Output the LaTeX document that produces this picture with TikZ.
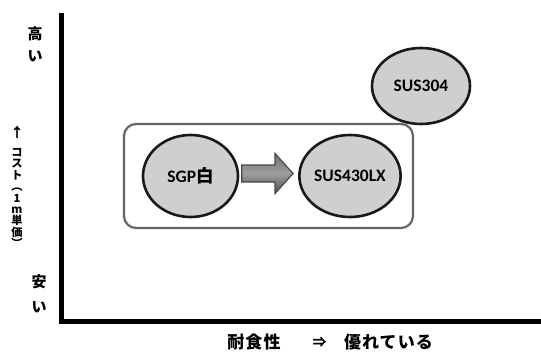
\documentclass[tikz,border=0pt]{standalone}
\usepackage{fontspec}
\setmainfont{Carlito}
\newfontfamily\jp{Noto Sans CJK JP}
\newfontfamily\jpwide[LetterSpace=6]{Noto Sans CJK JP}
\usetikzlibrary{shapes.geometric,calc}
\begin{document}
\begin{tikzpicture}[x=1pt,y=-1pt,
  axis/.style={line width=5.5pt,draw=black},
  bubble/.style={ellipse,draw=black!90,line width=2.6pt,fill=black!19,inner sep=0pt,
    font=\fontsize{17.5}{19}\selectfont\bfseries},
  group/.style={draw=black!60,line width=2.2pt,rounded corners=12pt},
  arrowbox/.style={draw=black!72,line width=1.2pt,top color=black!55,bottom color=black!70,middle color=black!38,line join=miter},
  lbl/.style={font=\jp\bfseries\fontsize{15}{16}\selectfont,inner sep=0pt}]
\useasboundingbox (0,0) rectangle (541,353);
\coordinate (top) at (61.5,13);
\coordinate (org) at (61.5,321.5);
\coordinate (right) at (541,321.5);
\draw[axis,line join=miter] (top) -- (org) -- (right);
\draw[group] (124,124) rectangle (413,228);
\node[bubble,minimum width=95pt,minimum height=82pt] (sgp) at (190.5,176) {SGP{\jp 白}};
\node[bubble,minimum width=95pt,minimum height=82pt] (lx) at (350,176) {SUS430LX};
\node[bubble,minimum width=98pt,minimum height=76pt] (s304) at (421,86) {SUS304};
\coordinate (a) at ($(sgp.east)+(2.5,-2.5)$);
\coordinate (b) at ($(lx.west)+(-5,-2.5)$);
\draw[arrowbox] ($(a)+(0,-8.5)$) -- ($(b)+(-18,-8.5)$) -- ($(b)+(-18,-20)$) -- (b)
  -- ($(b)+(-18,20)$) -- ($(b)+(-18,8.5)$) -- ($(a)+(0,8.5)$) -- cycle;
\node[lbl] (hi1) at (35,34) {高};
\node[lbl] (hi2) at (35,56) {い};
\node[lbl,font=\jp\bfseries\fontsize{13.5}{14}\selectfont] (up) at (17,132) {↑};
\node[lbl,align=center,font=\jp\bfseries\fontsize{11.2}{11.4}\selectfont] (cost) at (17,198)
  {コ\\ス\\ト\\︵\\1\\m\\単\\価\\︶};
\node[lbl] (lo1) at (39,282) {安};
\node[lbl] (lo2) at (39,307) {い};
\node[lbl,font=\jpwide\bfseries\fontsize{17}{18}\selectfont] (x1) at (254,342) {耐食性};
\node[lbl,font=\jp\bfseries\fontsize{14}{15}\selectfont] (x2) at (319.5,342) {⇒};
\node[lbl,font=\jpwide\bfseries\fontsize{17}{18}\selectfont] (x3) at (388.5,342) {優れている};
\end{tikzpicture}
\end{document}
